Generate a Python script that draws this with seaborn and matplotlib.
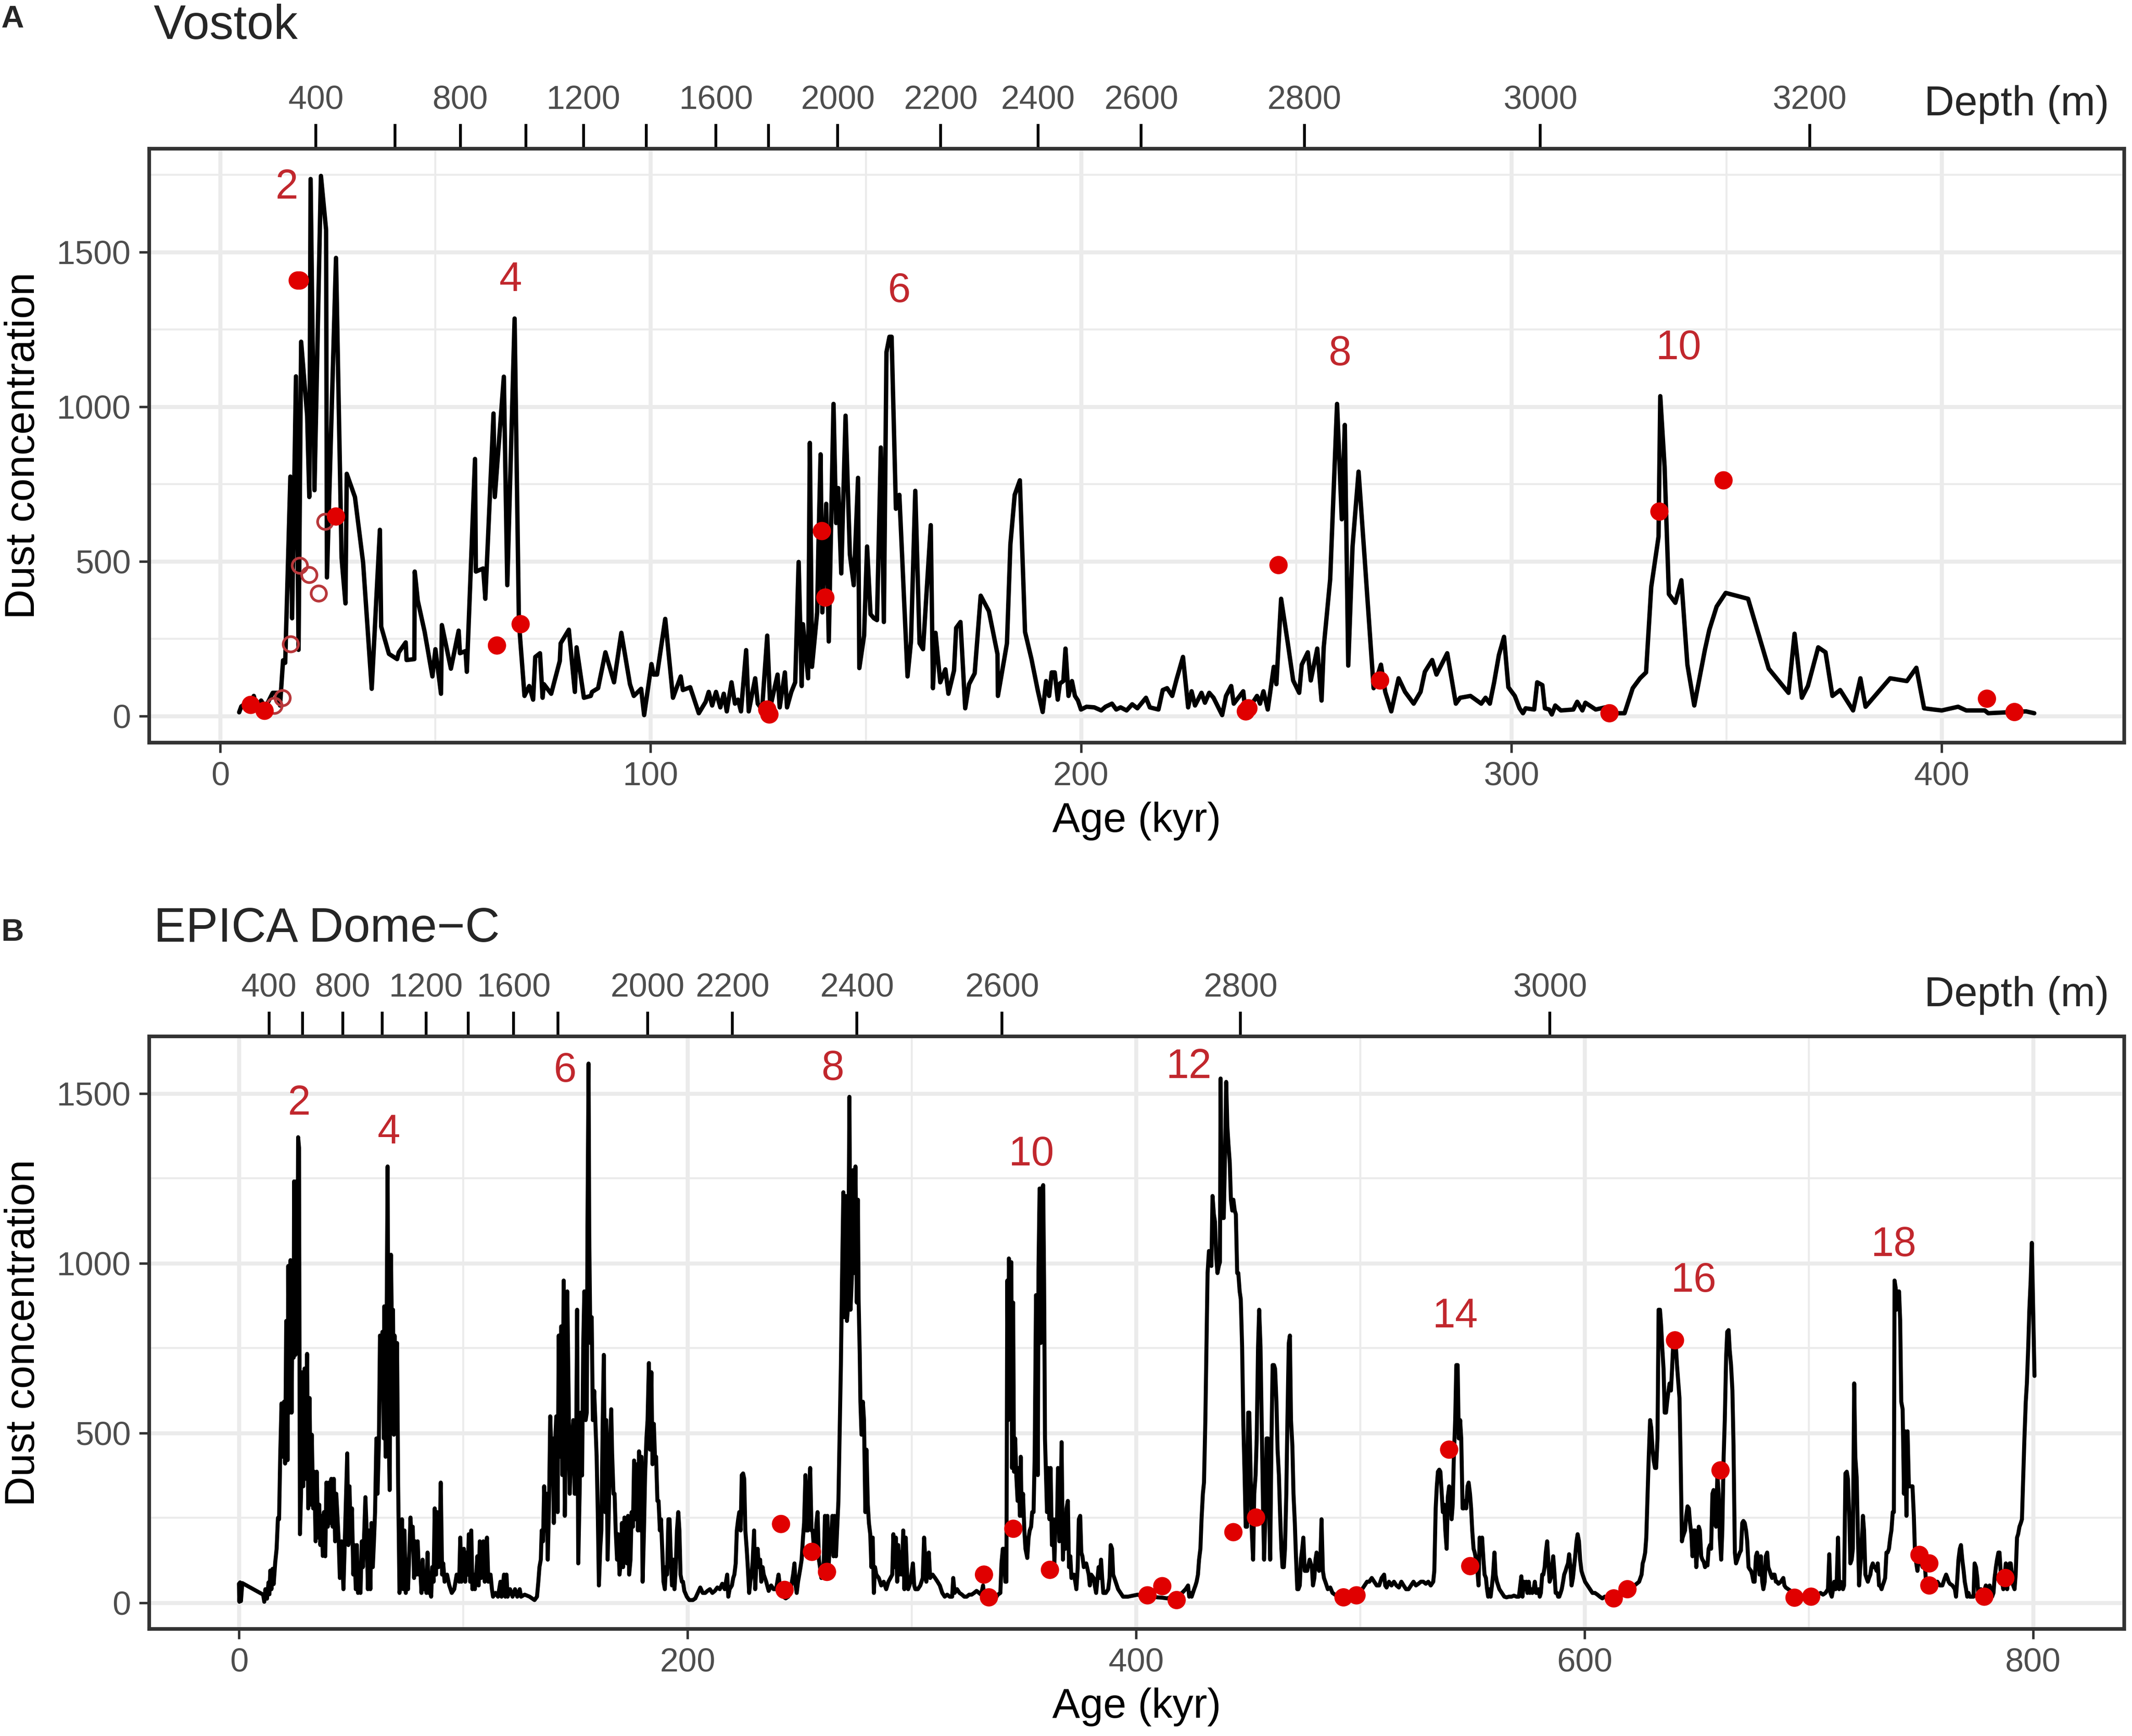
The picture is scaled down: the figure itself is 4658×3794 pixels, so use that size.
import numpy as np
import pandas as pd
import matplotlib
matplotlib.use("Agg")
import matplotlib.pyplot as plt
import seaborn as sns

# ---------------- DATA ----------------
vostok_age = [4.4,4.9,5.8,6.6,7.8,8.5,9.5,10.5,12.2,13.4,13.9,14.6,15.1,16.3,16.7,17.6,18.2,18.8,20.2,20.7,21.0,21.9,23.4,24.6,24.8,26.9,28.2,29.1,29.4,31.3,33.2,35.2,37.1,37.4,39.2,41.1,41.5,43.1,43.3,45.1,45.2,45.9,47.5,49.3,50.0,51.3,51.5,53.6,55.4,55.7,57.0,57.3,59.2,59.4,61.1,61.6,63.5,63.8,65.9,66.7,68.4,69.4,70.7,71.8,72.7,73.2,74.3,74.9,75.2,76.9,78.9,79.1,81.0,82.4,82.8,84.5,86.1,86.4,87.8,89.5,91.5,93.2,95.2,96.1,97.8,98.5,100.2,100.7,101.5,103.4,105.2,107.0,107.5,109.2,111.2,112.8,113.5,114.3,115.2,116.2,117.0,117.7,118.8,119.6,120.3,121.0,122.2,122.8,124.3,124.9,125.9,127.1,127.8,129.5,130.0,131.2,131.7,132.7,133.6,134.4,135.1,135.4,136.6,137.0,137.5,138.7,139.0,139.5,139.9,140.8,141.4,142.5,143.1,143.6,144.3,145.3,146.3,147.2,148.2,148.5,149.6,150.3,151.1,151.9,152.6,153.5,154.2,154.8,155.5,156.0,157.0,157.8,159.7,160.5,161.5,162.5,163.3,165.1,165.6,166.2,167.3,168.5,169.2,170.5,171.0,172.0,173.1,174.0,175.3,176.7,178.6,180.6,180.7,182.8,183.6,184.6,185.8,187.0,188.5,190.0,191.1,191.9,192.6,193.2,193.9,194.6,195.1,195.9,196.4,197.1,197.9,198.6,199.3,200.0,201.3,203.1,204.7,205.7,207.2,208.2,209.2,210.6,211.9,213.1,215.1,216.0,218.0,219.0,220.0,221.2,222.2,223.7,224.9,225.7,226.5,228.0,228.8,229.8,230.8,232.8,233.7,234.9,235.5,237.7,238.2,239.2,240.9,241.6,242.4,243.4,244.8,245.4,246.5,248.0,249.3,250.7,251.3,252.7,253.4,254.9,255.9,256.4,257.9,259.5,260.6,261.3,262.1,263.1,264.5,266.0,268.0,269.7,270.7,272.1,273.8,275.3,277.3,278.9,279.9,281.6,282.6,285.1,287.1,288.1,290.5,293.0,294.0,295.0,296.0,297.1,298.3,299.3,300.8,301.9,302.7,303.3,305.3,306.0,307.2,307.8,308.8,309.4,310.2,311.5,314.4,315.3,316.5,317.2,319.6,321.8,323.9,326.3,328.2,329.9,331.3,332.5,334.2,334.6,335.6,336.6,338.1,339.5,340.9,342.5,345.0,346.0,347.7,349.8,355.0,357.4,359.8,364.4,365.8,367.5,368.9,371.3,373.0,374.6,376.4,379.4,381.1,382.3,388.0,391.9,394.1,395.9,398.1,400.0,403.8,405.7,410.0,410.8,416.7,419.6,421.5]
vostok_dust = [12,31,40,18,65,28,50,28,75,75,34,180,172,774,316,1098,214,1210,971,708,1736,730,1746,1571,448,1481,511,364,783,708,496,88,602,289,201,184,206,238,181,184,467,373,272,128,216,72,294,153,276,203,210,143,831,467,477,379,978,708,1097,423,1285,304,65,97,53,191,203,59,103,72,178,235,279,78,222,59,65,78,90,206,109,269,103,65,88,3,168,134,134,314,59,128,84,93,9,46,78,34,78,28,72,15,109,40,53,15,213,15,122,40,21,260,28,134,28,141,28,78,109,498,97,297,122,883,159,335,555,846,335,686,241,1009,624,737,461,971,523,423,770,155,260,548,329,316,310,868,304,1176,1226,1226,670,715,128,241,728,235,216,617,90,269,109,151,72,147,285,304,25,103,138,389,339,200,65,235,555,715,762,272,184,80,13,113,65,141,141,53,105,113,218,65,113,65,50,21,30,28,18,30,40,21,28,18,38,25,59,28,21,84,90,65,118,191,28,80,34,75,43,75,59,3,65,97,40,80,15,28,65,40,80,21,159,103,379,241,115,75,166,206,115,218,50,222,442,1009,636,941,163,548,790,492,90,166,78,15,122,78,40,78,143,181,134,203,40,59,65,40,59,40,109,197,256,93,65,25,9,25,21,109,100,25,21,5,34,18,21,46,18,43,21,28,9,9,90,122,141,417,580,1034,806,394,366,439,166,34,216,279,354,398,379,266,153,75,266,59,97,222,206,65,84,18,122,30,122,113,156,25,21,18,30,18,18,9,13,15,9]

vostok_pt_age = [7.1,10.3,18.0,18.5,26.9,64.3,69.8,127.1,127.6,139.8,140.6,238.3,238.9,245.9,269.5,322.8,334.4,349.3,410.5,416.9]
vostok_pt_dust = [36,17,1408,1408,645,228,297,21,5,598,383,15,25,488,115,9,661,762,56,13]
vostok_open_age = [12.6,14.5,16.4,18.5,20.7,22.9,24.4]
vostok_open_dust = [33,58,232,486,456,396,628]

vostok_lab_age = [15.4, 67.5, 157.8, 260.1, 338.8]
vostok_lab_dust = [1708, 1408, 1373, 1169, 1188]
vostok_lab_text = ["2", "4", "6", "8", "10"]

vostok_depth_m = [400,600,800,1000,1200,1400,1600,1800,2000,2200,2400,2600,2800,3000,3200]
vostok_depth_age = [22.2,40.6,55.8,71.0,84.4,99.0,115.2,127.4,143.5,167.4,190.0,214.0,251.9,306.7,369.3]

epica_age = [0.0,0.2,0.5,0.9,1.5,10.8,11.3,11.8,12.5,13.2,13.6,14.0,14.5,15.0,15.5,16.2,16.8,17.4,17.9,18.4,19.0,19.5,20.1,20.6,21.1,21.7,22.0,22.6,23.0,23.5,23.9,24.4,24.6,25.2,25.5,26.0,26.4,26.8,27.2,27.7,28.2,28.7,29.3,29.8,30.4,30.9,31.5,32.0,32.5,33.1,33.6,34.2,34.7,35.3,35.8,36.3,36.9,37.4,37.9,38.5,39.0,39.6,40.1,40.7,41.2,41.8,42.3,42.9,43.4,44.0,44.5,45.0,45.8,46.6,47.2,47.7,48.3,48.8,49.3,49.9,50.4,51.0,51.5,52.1,52.6,53.1,53.7,54.2,54.8,55.3,55.9,56.4,57.0,57.5,58.0,58.6,59.1,59.7,60.2,60.7,61.3,61.8,62.4,62.9,63.5,64.0,64.6,64.8,65.4,65.8,66.3,66.7,67.2,67.8,68.3,68.7,69.1,69.4,70.0,70.5,71.0,71.6,72.2,72.7,73.3,73.8,74.4,74.8,75.4,76.5,77.0,77.5,78.1,78.6,79.2,79.7,80.3,80.8,81.4,81.9,82.5,83.0,83.6,84.1,84.6,85.2,85.7,86.2,86.8,87.3,87.9,88.4,89.0,89.5,90.0,90.6,91.1,91.7,92.8,93.8,94.9,96.0,97.1,98.2,98.7,99.2,99.8,100.3,100.9,101.4,102.0,102.5,103.1,103.6,104.1,104.7,105.2,105.8,106.3,106.9,107.4,108.0,109.0,109.6,110.6,111.2,112.2,112.8,113.3,114.4,115.5,116.6,117.1,118.2,118.8,119.3,119.8,120.9,122.0,123.1,124.1,125.2,125.8,127.4,129.6,131.8,132.9,133.5,134.0,134.6,135.0,135.6,136.1,136.7,137.2,137.7,138.3,138.8,139.4,139.9,140.4,141.0,141.5,142.1,142.6,143.2,143.7,144.2,144.8,145.3,145.9,146.4,147.0,147.5,148.0,148.6,149.1,149.7,150.2,150.8,151.3,151.9,152.4,153.0,153.5,154.0,154.6,155.1,155.4,155.9,156.2,156.7,157.3,157.8,158.4,158.9,159.5,160.0,160.5,161.1,161.6,162.2,162.7,163.3,163.8,164.4,164.9,165.4,166.0,
 166.4,167.0,167.5,168.0,168.6,169.1,169.7,170.2,170.8,171.3,171.9,172.4,173.0,173.5,174.0,174.6,175.1,175.7,176.2,176.8,177.3,177.9,178.4,179.0,179.5,180.0,180.6,181.1,181.7,182.2,182.8,183.3,183.9,184.4,185.0,185.5,186.0,186.6,187.1,187.7,188.2,188.8,189.3,189.9,190.4,190.9,191.5,192.0,192.6,193.1,193.7,194.2,194.8,195.3,195.9,196.4,196.9,197.5,198.0,198.6,199.7,200.8,202.4,203.5,204.6,205.7,206.8,207.9,208.9,210.0,211.1,212.2,213.3,214.4,215.5,216.6,217.7,218.2,218.8,219.8,220.4,220.9,221.5,222.0,222.6,223.1,223.7,224.2,224.8,225.3,225.8,226.4,226.9,227.5,228.0,228.6,229.1,229.7,230.2,230.8,231.3,231.8,232.4,232.9,233.5,234.0,235.1,236.2,237.3,238.4,239.5,240.6,241.1,241.7,242.7,243.8,244.9,246.0,247.1,247.7,248.2,248.7,249.3,250.4,250.9,251.5,252.0,252.6,253.1,253.7,254.2,254.7,255.3,255.8,256.4,256.9,257.5,258.0,258.6,259.1,259.7,260.2,260.7,261.3,261.8,262.4,262.9,263.5,264.0,264.6,265.1,265.6,266.2,266.7,267.3,267.8,268.4,268.9,269.5,270.0,270.6,271.1,271.6,272.2,272.7,273.3,273.8,274.4,274.9,275.5,276.0,276.3,276.8,277.1,277.6,278.2,278.7,279.3,279.8,280.4,280.9,281.5,282.0,282.6,283.1,283.6,284.2,285.3,286.4,287.5,288.6,289.6,291.3,291.8,292.4,292.9,293.5,294.0,294.5,295.1,295.6,296.2,296.7,297.3,297.8,298.4,299.5,300.5,301.1,301.6,302.7,303.8,304.9,305.5,306.0,306.5,307.6,308.2,309.3,310.4,311.5,312.5,313.6,314.7,315.8,316.9,318.0,318.5,319.1,320.2,321.3,322.4,323.4,324.5,325.6,326.7,327.8,328.9,
 330.9,331.8,332.3,333.0,334.0,335.2,336.3,337.3,338.4,339.5,340.0,340.6,341.1,341.7,342.2,342.6,343.0,343.3,343.9,344.4,344.7,345.2,345.6,346.1,346.6,347.2,347.7,348.2,348.6,349.0,349.6,350.2,350.7,351.5,352.1,352.6,353.2,353.7,354.3,354.8,355.4,355.9,356.2,356.5,357.0,357.5,358.1,358.6,359.0,359.4,359.8,360.3,360.8,361.4,361.9,362.5,363.0,363.6,364.1,364.7,365.2,365.8,366.3,366.8,367.4,367.9,368.5,369.0,369.6,370.1,370.7,371.2,372.3,372.9,373.4,374.0,374.5,375.1,375.6,376.1,376.7,377.8,378.9,379.4,380.0,381.1,381.6,382.2,382.7,383.3,383.8,384.4,384.9,385.4,386.5,387.6,388.2,388.7,389.3,389.8,390.9,392.0,393.1,394.2,396.4,398.6,400.8,403.0,405.1,407.3,409.5,411.7,413.9,416.1,418.3,420.5,422.1,423.2,423.7,424.3,424.8,425.9,426.5,427.0,427.6,428.1,428.7,429.2,429.8,430.3,430.9,431.4,431.9,432.5,433.0,433.6,434.1,434.7,435.2,435.8,436.3,436.9,437.4,437.7,438.2,438.6,439.1,439.6,440.2,440.7,441.2,441.8,442.3,442.9,443.4,444.0,444.5,445.1,445.6,446.2,446.7,447.3,447.8,448.4,448.9,449.5,450.0,450.5,451.1,451.6,452.2,452.7,453.3,453.8,454.4,454.9,455.5,456.0,456.6,457.1,457.7,458.2,458.8,459.3,459.8,460.4,460.9,461.5,462.0,462.6,463.1,463.7,464.2,464.8,465.3,465.9,466.4,467.0,467.5,468.1,468.6,469.1,469.7,470.2,470.8,471.3,471.9,472.4,473.0,473.5,474.1,474.6,475.2,476.3,477.4,478.4,
 478.9,479.5,480.0,480.5,481.1,481.6,482.2,482.7,483.3,483.8,484.4,485.5,486.6,487.6,488.7,489.8,490.9,492.0,493.1,494.2,495.3,496.4,497.5,498.6,499.7,500.8,501.9,503.0,504.0,505.1,506.2,507.3,508.4,509.5,510.6,511.1,511.7,512.8,513.9,515.0,516.1,517.2,518.3,519.3,520.4,521.5,522.6,523.7,524.8,525.9,527.0,528.1,529.2,530.3,531.4,532.5,533.0,533.6,534.1,534.6,535.2,535.7,536.3,536.8,537.4,537.9,538.5,539.0,539.6,540.1,540.7,541.2,541.7,542.3,542.8,543.4,543.9,544.5,545.0,545.6,546.1,546.7,547.2,547.8,548.3,548.9,549.4,549.9,550.5,551.0,551.6,552.1,552.7,553.2,553.8,554.3,554.9,555.4,556.0,556.5,557.0,557.6,558.1,558.7,559.2,559.8,560.3,560.9,562.0,563.1,564.2,565.2,566.3,567.4,568.5,569.6,570.7,571.8,572.3,572.9,573.4,574.0,574.5,575.1,575.6,576.2,576.7,577.3,577.8,578.4,578.9,579.5,580.0,580.5,581.1,581.6,582.2,582.7,583.3,583.8,584.4,584.9,585.5,586.0,586.6,587.1,587.7,588.2,588.7,589.3,589.8,590.4,590.9,591.5,592.0,592.6,593.1,593.7,594.2,594.8,595.3,595.8,596.4,596.9,597.5,598.0,598.6,599.1,600.2,601.3,602.4,603.5,604.6,605.7,606.8,607.9,609.0,610.1,612.2,614.4,616.6,618.8,621.0,623.2,624.3,625.4,625.9,626.4,627.0,627.5,628.1,628.6,629.2,629.7,630.3,630.8,631.4,631.9,632.5,633.0,633.6,634.1,634.6,635.2,635.7,636.3,636.8,637.4,637.9,638.5,639.0,639.6,640.1,640.7,641.2,641.8,642.3,642.8,643.4,
 643.7,644.2,644.8,645.3,645.9,646.5,647.0,647.6,648.1,648.7,649.2,649.8,650.3,650.9,651.4,652.0,652.5,653.1,653.7,654.2,654.8,655.3,655.9,656.4,657.0,657.5,658.1,658.6,659.2,659.8,660.3,660.9,661.4,662.0,662.5,663.1,663.6,664.2,664.7,665.3,665.9,666.4,667.0,667.5,668.1,668.6,669.2,669.7,670.3,670.8,671.4,672.0,672.5,673.1,673.6,674.2,674.7,675.3,675.8,676.4,676.9,677.5,678.0,678.6,679.2,679.7,680.3,680.8,681.4,681.9,682.5,683.0,683.6,684.1,684.7,685.3,685.8,686.4,687.5,688.6,689.1,689.7,690.8,691.9,693.0,694.1,695.2,696.3,697.5,698.6,699.7,700.8,701.9,703.0,704.1,705.2,706.3,707.4,708.5,709.1,709.6,710.2,710.8,711.3,711.9,712.4,713.0,713.5,714.1,714.6,715.2,715.7,716.3,716.9,717.4,718.0,718.5,719.1,719.6,720.2,720.7,721.3,721.8,722.4,722.9,723.5,724.1,724.6,725.2,725.7,726.3,726.8,727.4,727.9,728.5,729.0,729.6,730.2,730.7,731.3,731.8,732.4,732.9,733.5,734.0,734.6,735.1,735.7,736.3,736.8,737.4,737.9,738.2,738.7,739.0,739.4,739.8,740.2,740.7,741.2,741.8,742.4,742.9,743.5,744.0,744.6,745.1,745.7,746.2,746.8,747.3,747.9,748.4,749.0,749.6,750.1,750.7,751.2,751.8,752.3,752.9,753.4,754.0,755.1,756.2,757.3,758.4,759.5,760.6,761.2,761.8,762.3,762.9,764.0,765.1,765.6,766.2,766.7,767.3,767.8,768.4,769.0,769.5,770.1,770.6,771.2,771.7,772.8,773.4,773.9,774.5,775.1,775.6,776.2,776.7,777.3,777.8,778.4,778.9,779.5,780.6,781.7,782.3,782.8,783.4,783.9,784.5,785.0,785.6,786.1,786.7,787.3,787.8,788.4,788.9,789.5,790.0,790.6,791.1,791.7,792.2,792.8,793.3,793.9,794.5,795.0,795.6,796.1,796.7,797.2,797.8,798.3,798.9,799.4,800.0,800.6]
epica_dust = [56,3,60,5,58,24,3,40,12,60,25,95,40,100,55,120,159,250,246,430,587,430,592,410,830,420,992,560,1009,560,906,722,1241,730,1241,750,1371,1340,202,320,679,343,690,365,733,278,603,289,495,278,386,181,386,192,289,170,256,138,267,137,354,224,354,235,365,224,365,181,321,246,181,73,181,40,181,300,440,170,343,181,278,83,170,40,170,29,83,29,181,105,213,311,202,40,213,40,235,105,181,267,484,321,473,787,640,798,484,873,430,765,1285,538,332,1025,754,863,495,787,538,765,343,29,73,246,40,213,29,127,40,251,181,224,73,181,83,181,83,105,29,127,40,62,29,148,29,62,18,105,62,278,83,267,105,181,354,83,116,62,83,51,29,40,83,62,192,62,94,159,62,148,83,202,62,213,40,83,40,83,137,51,181,73,181,62,192,62,83,40,18,29,18,62,18,83,18,83,18,40,18,40,18,40,18,24,18,8,18,62,105,127,213,181,343,213,321,127,300,549,430,484,235,473,549,267,787,430,814,376,949,256,538,917,611,321,430,484,538,321,321,863,116,321,560,375,754,917,538,560,1101,1588,1079,765,841,538,624,538,430,267,51,159,213,538,730,267,538,127,267,451,570,
 440,321,321,213,127,202,83,116,235,105,251,246,116,256,83,127,267,224,419,246,408,213,446,213,430,62,213,376,484,538,706,451,679,408,527,430,430,300,300,213,246,148,62,40,105,83,246,246,127,51,127,40,105,213,267,213,83,62,62,35,18,8,8,13,29,45,29,29,35,40,29,35,45,40,56,40,83,18,40,51,73,83,116,213,246,267,213,376,381,365,213,159,105,29,62,83,127,213,40,127,159,105,127,62,105,83,62,35,51,40,40,83,56,29,18,13,18,40,83,116,51,29,62,105,127,192,235,376,213,213,321,397,213,213,159,170,235,267,127,105,73,83,105,256,83,256,105,181,181,256,137,256,137,213,300,484,700,949,1209,841,1198,830,873,1490,863,960,1274,971,1285,884,1187,895,733,592,495,592,538,267,451,289,235,202,105,192,29,105,83,73,51,62,40,62,83,202,105,192,62,170,83,148,83,213,40,192,105,40,62,116,51,40,40,51,73,192,127,62,148,73,83,73,62,51,29,18,24,18,18,73,29,40,29,24,18,18,24,24,29,35,
 24,51,13,21,29,24,18,13,24,29,116,159,159,62,62,949,538,1014,614,1003,397,884,386,484,376,300,397,256,430,256,321,213,159,132,192,213,224,267,267,430,906,754,376,981,1220,765,1220,1230,949,484,386,267,397,246,397,170,246,116,246,213,397,181,235,473,127,213,159,278,300,105,137,73,83,62,40,105,246,256,148,137,105,116,83,51,83,73,51,29,62,105,73,127,73,29,29,40,73,170,159,83,62,40,29,18,18,21,24,18,16,18,16,15,13,18,21,29,40,51,18,29,18,40,51,62,83,127,159,246,321,354,538,754,971,1036,1014,992,1198,1144,1122,1014,971,992,1003,1544,1133,1133,1133,1295,1534,1404,1350,1295,1187,1155,1187,1155,1144,971,971,917,894,754,538,376,224,224,560,560,376,213,127,321,376,484,754,863,754,538,289,127,267,484,484,289,127,484,700,700,689,592,451,376,267,159,105,105,159,321,538,765,787,538,462,321,235,137,40,40,51,127,159,192,94,94,127,105,
 51,73,127,148,105,94,127,246,94,73,62,40,45,29,24,18,21,24,29,29,21,24,24,29,29,40,51,62,62,73,62,51,51,73,83,51,45,62,51,62,51,45,62,51,40,40,51,62,51,56,62,62,56,62,51,62,94,278,343,386,392,386,321,267,289,213,159,311,343,332,246,289,430,538,700,700,484,538,484,278,278,300,278,343,354,321,278,213,159,148,127,105,51,192,181,192,127,83,73,40,18,40,18,51,83,148,83,62,40,29,18,16,18,18,21,18,18,78,18,62,40,62,29,62,29,40,29,40,62,29,29,40,18,29,83,83,105,148,181,127,62,73,105,137,83,29,29,18,18,29,40,62,83,94,105,116,143,105,51,73,105,137,181,202,181,127,94,83,62,51,40,29,29,24,18,13,18,13,18,24,29,35,45,56,62,83,116,127,148,192,321,430,538,516,451,419,397,397,484,863,863,819,754,689,560,560,592,625,646,625,689,776,776,754,700,646,603,430,181,
 192,202,213,256,284,278,235,202,137,213,213,105,159,224,213,137,127,121,105,116,110,159,170,159,321,332,235,224,376,321,192,127,213,430,538,722,798,803,744,700,625,462,148,116,127,137,148,154,235,241,235,213,181,105,99,94,83,62,62,137,148,127,83,137,62,40,62,137,148,105,94,83,73,83,83,62,62,56,62,73,51,45,40,35,29,24,21,18,21,21,18,18,21,24,24,29,24,29,40,143,29,18,40,62,40,62,192,40,62,51,40,51,381,386,365,256,116,127,159,646,430,370,213,51,105,159,256,213,83,73,62,73,83,105,116,105,105,94,116,51,51,40,51,62,73,148,148,159,192,213,267,267,949,927,863,917,906,917,831,592,570,321,505,256,505,343,343,343,343,256,148,116,94,137,127,116,105,127,105,51,40,51,40,51,51,62,51,51,73,83,73,62,56,51,40,18,73,127,159,170,127,94,62,40,18,29,18,18,18,116,105,73,18,29,40,18,29,40,51,40,51,18,29,73,105,127,148,148,83,62,40,83,116,40,73,116,116,83,51,40,83,192,202,224,235,246,376,484,592,646,754,863,949,1060,863,668]

epica_pt_age = [241.7,243.3,255.5,262.2,332.2,334.4,345.3,361.6,405.1,411.7,418.1,443.4,453.5,492.5,498.3,539.6,549.0,613.0,619.1,640.3,660.6,693.6,701.0,749.3,753.7,753.7,778.2,787.6]
epica_pt_dust = [232,38,150,91,83,16,218,97,22,49,8,208,251,16,22,451,108,13,40,773,390,15,18,141,116,51,18,73]

epica_lab_age = [26.8, 66.9, 145.3, 264.6, 353.2, 423.5, 542.3, 648.5, 737.8]
epica_lab_dust = [1469, 1384, 1566, 1571, 1319, 1577, 843, 948, 1053]
epica_lab_text = ["2", "4", "6", "8", "10", "12", "14", "16", "18"]

epica_depth_m = [400,600,800,1000,1200,1400,1600,1800,2000,2200,2400,2600,2800,3000]
epica_depth_age = [13.4,28.4,46.3,63.8,83.4,102.2,122.5,142.2,182.2,220.0,275.6,340.3,446.6,584.5]
hidden_depth_labels = [600, 1000, 1400, 1800]

dust_ticks = [0, 500, 1000, 1500]

# ---------------- STYLE ----------------
sns.set_theme(style="white")
plt.rcParams["font.family"] = ["Liberation Sans", "DejaVu Sans"]

W, H, DPI = 4658, 3794, 300
fig = plt.figure(figsize=(W / DPI, H / DPI), dpi=DPI)
fig.patch.set_facecolor("white")

L, R = 326, 4641
axA = fig.add_axes([L / W, 1 - 1623 / H, (R - L) / W, (1623 - 325) / H])
axB = fig.add_axes([L / W, 1 - 3560 / H, (R - L) / W, (3560 - 2265) / H])

GRID = "#EBEBEB"
BORDER = "#333333"
TICKTXT = "#4D4D4D"
LABRED = "#C1272D"
PTRED = "#E00000"
OPENRED = "#B8373A"
TICK_FS = 17.5
TITLE_FS = 21.8
LAB_FS = 21.5


def style_axis(ax, xlim, ylim, xmaj, xmin, ymin_ticks):
    ax.set_facecolor("white")
    ax.set_xlim(*xlim)
    ax.set_ylim(*ylim)
    ax.set_xticks(xmaj)
    ax.set_xticks(xmin, minor=True)
    ax.set_yticks(dust_ticks)
    ax.set_yticks(ymin_ticks, minor=True)
    ax.grid(True, which="major", color=GRID, linewidth=2.1, zorder=0)
    ax.grid(True, which="minor", color=GRID, linewidth=1.05, zorder=0)
    ax.set_axisbelow(True)
    for s in ax.spines.values():
        s.set_visible(True)
        s.set_color(BORDER)
        s.set_linewidth(1.9)
        s.set_zorder(5)
    ax.tick_params(axis="both", which="major", direction="out", length=5.2,
                   width=1.3, color=BORDER, labelcolor=TICKTXT,
                   labelsize=TICK_FS, pad=4.5, bottom=True, left=True, top=False, right=False)
    ax.tick_params(axis="both", which="minor", length=0)


def add_depth_axis(ax, ages, depths):
    sec = ax.secondary_xaxis("top", functions=(lambda x: x, lambda x: x))
    labels = ["" if d in hidden_depth_labels else str(d) for d in depths]
    sec.set_xticks(ages, labels)
    sec.tick_params(axis="x", direction="out", length=13, width=1.5,
                    color="black", labelcolor=TICKTXT, labelsize=TICK_FS, pad=4.5)
    sec.tick_params(axis="x", which="minor", length=0)
    sec.spines["top"].set_visible(False)
    return sec


# ---------------- PANEL A: Vostok ----------------
style_axis(axA, (-16.5, 442.4), (-86, 1834), [0, 100, 200, 300, 400],
           [50, 150, 250, 350], [250, 750, 1250, 1750])
vdf = pd.DataFrame({"age": vostok_age, "dust": vostok_dust})
sns.lineplot(data=vdf, x="age", y="dust", ax=axA, color="black", linewidth=2.3,
             estimator=None, sort=False, zorder=3)
sns.scatterplot(x=vostok_open_age, y=vostok_open_dust, ax=axA, marker="o",
                s=64, facecolor="none", edgecolor=OPENRED, linewidth=1.4, zorder=4)
sns.scatterplot(x=vostok_pt_age, y=vostok_pt_dust, ax=axA, marker="o",
                s=92, color=PTRED, edgecolor="none", linewidth=0, zorder=4)
for a, d, t in zip(vostok_lab_age, vostok_lab_dust, vostok_lab_text):
    axA.text(a, d, t, color=LABRED, fontsize=LAB_FS, ha="center", va="center", zorder=6)
add_depth_axis(axA, vostok_depth_age, vostok_depth_m)

# ---------------- PANEL B: EPICA ----------------
style_axis(axB, (-40, 840.6), (-77, 1668), [0, 200, 400, 600, 800],
           [100, 300, 500, 700], [250, 750, 1250])
edf = pd.DataFrame({"age": epica_age, "dust": epica_dust})
sns.lineplot(data=edf, x="age", y="dust", ax=axB, color="black", linewidth=2.1,
             estimator=None, sort=False, zorder=3)
sns.scatterplot(x=epica_pt_age, y=epica_pt_dust, ax=axB, marker="o",
                s=92, color=PTRED, edgecolor="none", linewidth=0, zorder=4)
for a, d, t in zip(epica_lab_age, epica_lab_dust, epica_lab_text):
    axB.text(a, d, t, color=LABRED, fontsize=LAB_FS, ha="center", va="center", zorder=6)
add_depth_axis(axB, epica_depth_age, epica_depth_m)

# ---------------- Titles / labels ----------------
for ax in (axA, axB):
    ax.set_xlabel("Age (kyr)", fontsize=TITLE_FS, color="black")
    ax.set_ylabel("Dust concentration", fontsize=TITLE_FS, color="black")
    ax.xaxis.set_label_coords(0.5, -0.132)
    ax.xaxis.label.set_va("center")
    ax.yaxis.set_label_coords(-0.0635, 0.5)
    ax.yaxis.label.set_va("center")

fig.text(336 / W, 1 - 85 / H, "Vostok", fontsize=25.2, ha="left", va="baseline")
fig.text(336 / W, 1 - 2058 / H, "EPICA Dome\u2212C", fontsize=25.2, ha="left", va="baseline")
fig.text(2 / W, 1 - 60 / H, "A", fontsize=16.5, fontweight="bold", ha="left", va="baseline")
fig.text(2 / W, 1 - 2056 / H, "B", fontsize=16.5, fontweight="bold", ha="left", va="baseline")
fig.text(4608 / W, 1 - 252 / H, "Depth (m)", fontsize=TITLE_FS, ha="right", va="baseline")
fig.text(4608 / W, 1 - 2199 / H, "Depth (m)", fontsize=TITLE_FS, ha="right", va="baseline")

fig.savefig("out.png", dpi=DPI, facecolor="white")
